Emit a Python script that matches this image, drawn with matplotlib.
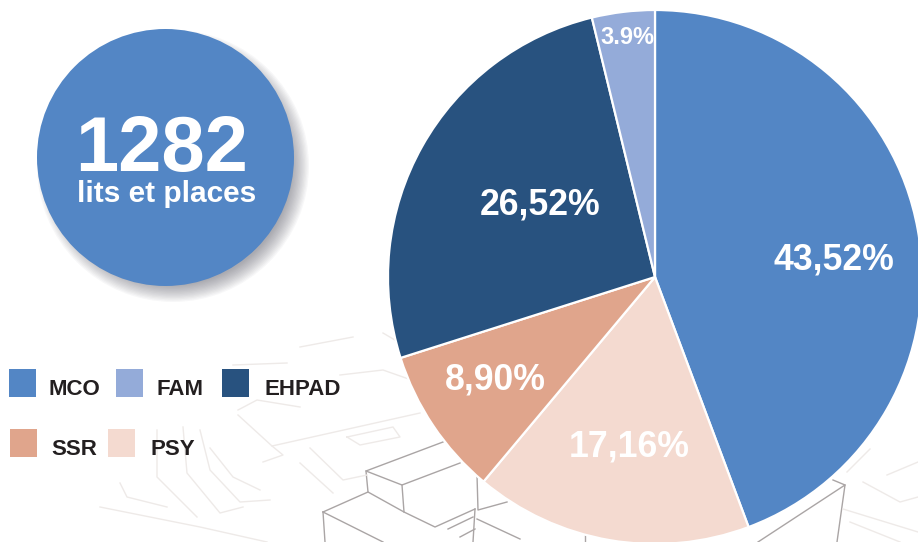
import matplotlib
matplotlib.use("Agg")
import matplotlib.pyplot as plt
from matplotlib.patches import Circle, Rectangle

plt.rcParams['font.family'] = ['Liberation Sans', 'DejaVu Sans']

categories = ["MCO", "PSY", "SSR", "EHPAD", "FAM"]
# wedge shares as drawn in the picture, they differ a little from the printed labels
shares = [44.3, 16.8, 9.0, 26.1, 3.8]
slice_labels = ["43,52%", "17,16%", "8,90%", "26,52%", "3.9%"]
colors = ["#5386c5", "#f4dad0", "#e0a58c", "#28527f", "#94abd9"]
total_value = "1282"
total_text = "lits et places"

W, H = 918, 542


def Y(y):
    # picture rows to axes y
    return H - y


fig = plt.figure(figsize=(W / 100, H / 100), dpi=100, facecolor="white")
ax = fig.add_axes([0, 0, 1, 1])

# faint building sketch behind the pie
sketch_dark = [
    [(443, 442), (366, 471), (402, 485), (460, 463)],
    [(366, 471), (368, 492)],
    [(402, 485), (404, 512)],
    [(323, 512), (368, 492), (404, 512), (435, 527), (475, 509)],
    [(323, 512), (325, 542)],
    [(323, 512), (383, 542)],
    [(477, 475), (478, 510), (507, 502)],
    [(475, 509), (473, 542)],
    [(477, 519), (520, 539)],
    [(448, 529), (473, 517)],
    [(460, 537), (475, 529)],
    [(758, 542), (845, 485), (837, 542)],
    [(833, 480), (845, 485)],
    [(585, 535), (585, 542)],
]
sketch_light = [
    [(238, 415), (272, 446), (420, 413)],
    [(272, 446), (283, 455), (263, 462)],
    [(210, 448), (233, 477), (260, 490)],
    [(200, 430), (210, 470), (240, 502), (270, 500)],
    [(183, 427), (187, 473), (220, 513), (243, 507)],
    [(157, 430), (157, 477), (197, 517)],
    [(120, 483), (127, 497), (167, 507)],
    [(100, 507), (200, 527), (267, 542)],
    [(310, 448), (343, 480), (367, 475)],
    [(300, 463), (333, 493)],
    [(238, 410), (257, 400), (300, 407)],
    [(340, 375), (383, 370), (420, 383)],
    [(233, 365), (287, 363)],
    [(300, 347), (353, 337)],
    [(383, 333), (400, 343)],
    [(347, 437), (393, 427), (400, 437), (360, 445), (347, 437)],
    [(863, 482), (900, 502), (918, 497)],
    [(843, 509), (918, 532)],
    [(887, 475), (918, 462)],
    [(847, 472), (870, 449)],
    [(850, 522), (900, 542)],
]
for line in sketch_dark:
    ax.plot([p[0] for p in line], [Y(p[1]) for p in line], color="#aaa5a5", lw=1.0, zorder=1)
for line in sketch_light:
    ax.plot([p[0] for p in line], [Y(p[1]) for p in line], color="#eeeae8", lw=1.0, zorder=1)

# pie
ax.pie(shares, colors=colors, startangle=90, counterclock=False,
       center=(655, Y(277)), radius=267, frame=True,
       wedgeprops={"edgecolor": "white", "linewidth": 1.6})
for artist in ax.patches:
    artist.set_zorder(3)

label_pos = [(834, 260), (629, 447), (495, 380), (540, 205), (627, 37)]
label_size = [25.7, 25.7, 25.7, 25.7, 17]
for lab, pos, size in zip(slice_labels, label_pos, label_size):
    ax.text(pos[0], Y(pos[1]), lab, color="white", fontsize=size, fontweight="bold",
            ha="center", va="center", zorder=5)

# blurred shadow, then the disc
for k in range(14):
    ax.add_patch(Circle((173, Y(166)), 136 - k * 1.3, facecolor="#555560", edgecolor="none",
                        alpha=0.045, zorder=2))
ax.add_patch(Circle((165.5, Y(157.5)), 128.5, facecolor="#5386c5", edgecolor="none", zorder=4))
ax.text(162, Y(170.5), total_value, color="white", fontsize=56, fontweight="bold",
        ha="center", va="baseline", zorder=5)
ax.text(167, Y(201.5), total_text, color="white", fontsize=21.5, fontweight="bold",
        ha="center", va="baseline", zorder=5)

# legend
legend_names = ["MCO", "FAM", "EHPAD", "SSR", "PSY"]
legend_colors = ["#5386c5", "#94abd9", "#28527f", "#e0a58c", "#f4dad0"]
legend_box = [(9, 369), (116, 369), (222, 369), (10, 429), (108, 429)]
legend_text = [(49, 395), (157, 395), (265, 395), (51, 455), (151, 455)]
for name, col, box, txt in zip(legend_names, legend_colors, legend_box, legend_text):
    ax.add_patch(Rectangle((box[0], Y(box[1] + 28)), 27, 28, facecolor=col, edgecolor="none", zorder=4))
    ax.text(txt[0], Y(txt[1]), name, color="#231f20", fontsize=16, fontweight="bold",
            ha="left", va="baseline", zorder=5)

ax.set_xlim(0, W)
ax.set_ylim(0, H)
ax.set_aspect("equal")
ax.axis("off")

fig.savefig("out.png", dpi=100)
